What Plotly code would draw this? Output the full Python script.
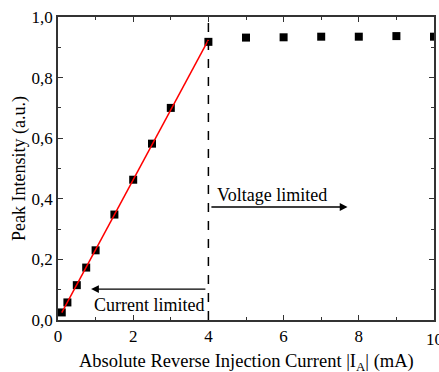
import numpy as np
import plotly.graph_objects as go

# Data
current_ma = [0.1, 0.25, 0.5, 0.75, 1.0, 1.5, 2.0, 2.5, 3.0, 4.0, 5.0, 6.0, 7.0, 8.0, 9.0, 10.0]
peak_intensity = [0.025, 0.058, 0.115, 0.173, 0.23, 0.348, 0.463, 0.582, 0.70, 0.918,
                  0.932, 0.933, 0.935, 0.935, 0.937, 0.935]

# Linear fit over the current-limited region (x <= 4)
fit_x_range = [0.1, 4.0]
xs = np.array(current_ma)
ys = np.array(peak_intensity)
mask = xs <= 4.0
slope, intercept = np.polyfit(xs[mask], ys[mask], 1)
fit_x = np.array(fit_x_range)
fit_y = slope * fit_x + intercept

boundary_x = 4.0

FONT = "'Liberation Serif', 'Times New Roman', serif"

fig = go.Figure()
fig.add_trace(go.Scatter(x=current_ma, y=peak_intensity, mode="markers",
                         marker=dict(symbol="square", size=8, color="black"),
                         showlegend=False))
fig.add_trace(go.Scatter(x=fit_x, y=fit_y, mode="lines",
                         line=dict(color="red", width=1.5), showlegend=False))

fig.add_shape(type="line", x0=boundary_x, x1=boundary_x, y0=0, y1=1,
              xref="x", yref="y", line=dict(color="black", width=1.5, dash="dash"))

# Arrows
fig.add_annotation(x=0.88, y=0.102, ax=boundary_x, ay=0.102, xref="x", yref="y",
                   axref="x", ayref="y", text=" ", showarrow=True, arrowhead=2,
                   arrowsize=1.2, arrowwidth=1.3, arrowcolor="black")
fig.add_annotation(x=7.7, y=0.373, ax=boundary_x, ay=0.373, xref="x", yref="y",
                   axref="x", ayref="y", text=" ", showarrow=True, arrowhead=2,
                   arrowsize=1.2, arrowwidth=1.3, arrowcolor="black")
fig.add_annotation(x=2.42, y=0.05, xref="x", yref="y", text="Current limited",
                   showarrow=False, font=dict(family=FONT, size=18, color="black"))
fig.add_annotation(x=5.7, y=0.413, xref="x", yref="y", text="Voltage limited",
                   showarrow=False, font=dict(family=FONT, size=18, color="black"))
# partially visible last tick label at the right edge
fig.add_annotation(x=10, y=0, xref="x", yref="paper", yshift=-8, yanchor="top",
                   text="10", showarrow=False,
                   font=dict(family=FONT, size=17, color="black"))
# x-axis title
fig.add_annotation(x=0.5, y=0, xref="paper", yref="paper", yshift=-42, yanchor="middle",
                   text="Absolute Reverse Injection Current |I<sub>A</sub>| (mA)",
                   showarrow=False, font=dict(family=FONT, size=18.5, color="black"))

axis_common = dict(showline=True, linecolor="#333", linewidth=1.5, mirror="ticks",
                   ticks="inside", ticklen=5, tickwidth=1.2, tickcolor="#333",
                   showgrid=False, zeroline=False, automargin=False,
                   tickfont=dict(family=FONT, size=17, color="black"))

fig.update_xaxes(range=[0, 10], tickvals=[0, 2, 4, 6, 8],
                 minor=dict(ticks="inside", tickvals=[1, 3, 5, 7, 9], ticklen=3, tickcolor="#333"),
                 **axis_common)
fig.update_yaxes(range=[0, 1.0], dtick=0.2, tick0=0, tickformat=".1f",
                 minor=dict(ticks="inside", dtick=0.1, ticklen=3, tickcolor="#333"),
                 title=dict(text="Peak Intensity (a.u.)",
                            font=dict(family=FONT, size=18, color="black"),
                            standoff=1),
                 **axis_common)

fig.update_layout(width=439, height=372, separators=",.",
                  font=dict(family=FONT),
                  margin=dict(l=58, r=5, t=17, b=52),
                  plot_bgcolor="white", paper_bgcolor="white")

fig.write_html("out.html")
